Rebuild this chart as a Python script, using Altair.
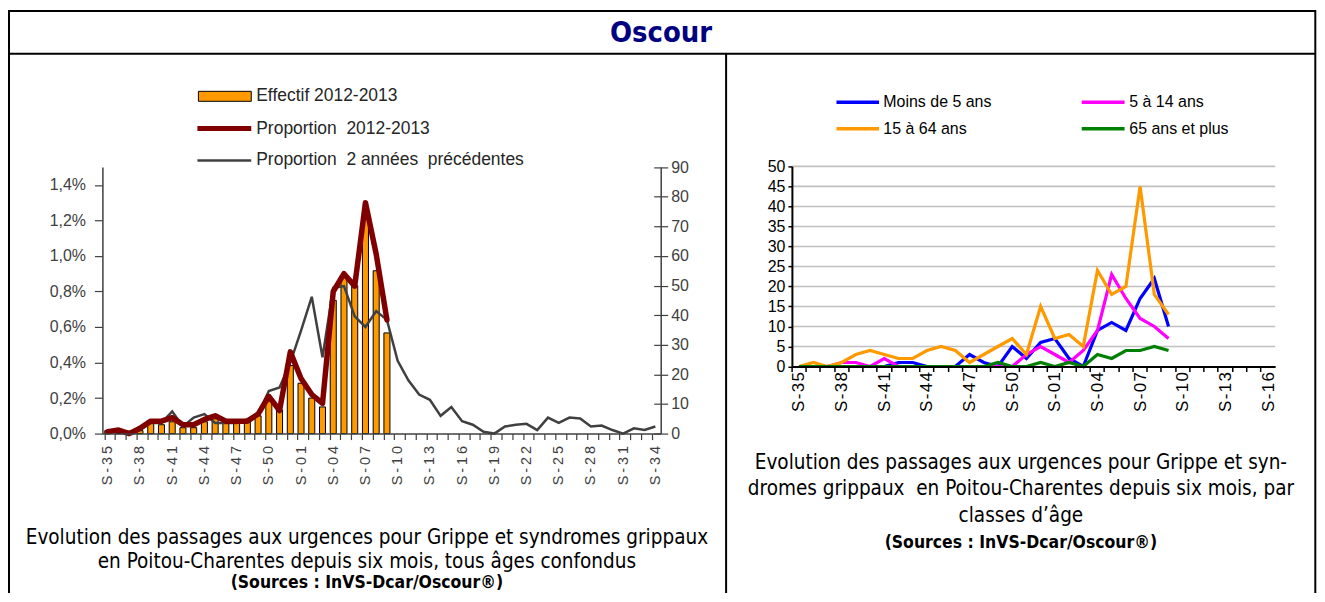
import altair as alt
import pandas as pd

# ---------------- data ----------------
weeks_left = ["S-35", "S-36", "S-37", "S-38", "S-39", "S-40", "S-41", "S-42", "S-43", "S-44",
              "S-45", "S-46", "S-47", "S-48", "S-49", "S-50", "S-51", "S-52", "S-01", "S-02",
              "S-03", "S-04", "S-05", "S-06", "S-07", "S-08", "S-09", "S-10", "S-11", "S-12",
              "S-13", "S-14", "S-15", "S-16", "S-17", "S-18", "S-19", "S-20", "S-21", "S-22",
              "S-23", "S-24", "S-25", "S-26", "S-27", "S-28", "S-29", "S-30", "S-31", "S-32",
              "S-33", "S-34"]
left_tick_labels = ["S-35", "S-38", "S-41", "S-44", "S-47", "S-50", "S-01", "S-04", "S-07", "S-10",
                    "S-13", "S-16", "S-19", "S-22", "S-25", "S-28", "S-31", "S-34"]

effectif_1213 = [1, 0, 0, 1, 4, 3, 4, 2, 2, 4, 5, 4, 4, 4, 6, 11, 8, 23, 17, 12, 9, 45, 53, 50, 73, 55, 34]
proportion_1213 = [0.01, 0.02, 0.0, 0.03, 0.07, 0.07, 0.09, 0.05, 0.05, 0.08, 0.10, 0.07, 0.07, 0.07,
                   0.11, 0.21, 0.13, 0.46, 0.31, 0.22, 0.17, 0.80, 0.90, 0.83, 1.30, 1.01, 0.64]
proportion_prev = [0.01, 0.01, 0.01, 0.02, 0.06, 0.06, 0.125, 0.04, 0.09, 0.11, 0.06, 0.06, 0.06, 0.08,
                   0.11, 0.24, 0.26, 0.40, 0.58, 0.77, 0.43, 0.82, 0.83, 0.66, 0.60, 0.69, 0.64, 0.41,
                   0.30, 0.22, 0.19, 0.10, 0.15, 0.07, 0.05, 0.01, 0.0, 0.04, 0.05, 0.055, 0.02, 0.09,
                   0.06, 0.09, 0.085, 0.04, 0.045, 0.02, 0.0, 0.03, 0.02, 0.04]
pct_ticks = [0.0, 0.2, 0.4, 0.6, 0.8, 1.0, 1.2, 1.4]
count_ticks = [0, 10, 20, 30, 40, 50, 60, 70, 80, 90]

weeks_right = ["S-35", "S-36", "S-37", "S-38", "S-39", "S-40", "S-41", "S-42", "S-43", "S-44",
               "S-45", "S-46", "S-47", "S-48", "S-49", "S-50", "S-51", "S-52", "S-01", "S-02",
               "S-03", "S-04", "S-05", "S-06", "S-07", "S-08", "S-09", "S-10", "S-11", "S-12",
               "S-13", "S-14", "S-15", "S-16"]
right_tick_labels = ["S-35", "S-38", "S-41", "S-44", "S-47", "S-50", "S-01", "S-04", "S-07", "S-10",
                     "S-13", "S-16"]
age_names = ["Moins de 5 ans", "5 à 14 ans", "15 à 64 ans", "65 ans et plus"]
age_colors = ["#0000FF", "#FF00FF", "#FF9900", "#008000"]
moins_5 = [0, 0, 0, 0, 0, 0, 0, 1, 1, 0, 0, 0, 3, 1, 0, 5, 2, 6, 7, 2, 0, 9, 11, 9, 17, 22, 10]
de_5_14 = [0, 0, 0, 1, 1, 0, 2, 0, 0, 0, 0, 0, 0, 0, 0, 0, 3, 5, 3, 1, 4, 9, 23, 17, 12, 10, 7]
de_15_64 = [0, 1, 0, 1, 3, 4, 3, 2, 2, 4, 5, 4, 1, 3, 5, 7, 3, 15, 7, 8, 5, 24, 18, 20, 45, 18, 13]
plus_65 = [0, 0, 0, 0, 0, 0, 0, 0, 0, 0, 0, 0, 0, 0, 1, 0, 0, 1, 0, 1, 0, 3, 2, 4, 4, 5, 4]
age_series = [moins_5, de_5_14, de_15_64, plus_65]
right_ticks = [0, 5, 10, 15, 20, 25, 30, 35, 40, 45, 50]
right_grid = [5, 10, 15, 20, 25, 30, 35, 40, 45, 50]

title_text = "Oscour"
left_legend = ["Effectif 2012-2013", "Proportion\u00a0 2012-2013", "Proportion\u00a0 2 années\u00a0 précédentes"]
left_caption = ["Evolution des passages aux urgences pour Grippe et syndromes grippaux",
                "en Poitou-Charentes depuis six mois, tous âges confondus"]
right_caption = ["Evolution des passages aux urgences pour Grippe et syn-",
                 "dromes grippaux\u00a0 en Poitou-Charentes depuis six mois, par",
                 "classes d\u2019âge"]
source_text = "(Sources : InVS-Dcar/Oscour®)"

# ---------------- layout (pixels inside the chart) ----------------
W, H = 1313, 586
LX0, LX1 = 94.7, 654.7
LY0, LY1 = 426.0, 158.7
RX0, RX1 = 786.3, 1271.0
RY0, RY1 = 358.7, 158.0

SANS = "Liberation Sans, Arial, sans-serif"
COND = "DejaVu Sans Condensed, Liberation Sans Narrow, sans-serif"
AXGRAY = "#404040"
THIN_LABELS = "join(split(datum.label, ''), '\u2009')"
HAIR_LABELS = "join(split(datum.label, ''), '\u200a')"

one = pd.DataFrame({"k": [0]})


def text_layer(s, x, y, size, color="black", align="left", font=SANS, weight="normal", baseline="middle"):
    return alt.Chart(one).mark_text(align=align, baseline=baseline, font=font, fontSize=size,
                                    fontWeight=weight, color=color).encode(
        x=alt.value(x), y=alt.value(y), text=alt.value(s))


def hrule(x1, x2, y, color="black", w=2.0):
    return alt.Chart(one).mark_rule(color=color, strokeWidth=w).encode(
        x=alt.value(x1), x2=alt.value(x2), y=alt.value(y))


def vrule(x, y1, y2, color="black", w=2.0):
    return alt.Chart(one).mark_rule(color=color, strokeWidth=w).encode(
        x=alt.value(x), y=alt.value(y1), y2=alt.value(y2))


def lx_band():
    return alt.Scale(type="band", domain=weeks_left, range=[LX0, LX1], paddingInner=0.44, paddingOuter=0.22)


def lx_point():
    return alt.Scale(type="point", domain=weeks_left, range=[LX0, LX1], padding=0.5)


def ly_pct():
    return alt.Scale(domain=[0, 1.5], range=[LY0, LY1], nice=False, zero=True)


def ly_n():
    return alt.Scale(domain=[0, 90], range=[LY0, LY1], nice=False, zero=True)


def rx_band():
    return alt.Scale(type="band", domain=weeks_right, range=[RX0, RX1], paddingInner=0, paddingOuter=0)


def rx_point():
    return alt.Scale(type="point", domain=weeks_right, range=[RX0, RX1], padding=0.5)


def ry():
    return alt.Scale(domain=[0, 50], range=[RY0, RY1], nice=False, zero=True)


df_eff = pd.DataFrame({"week": weeks_left[:len(effectif_1213)], "n": effectif_1213})
df_p13 = pd.DataFrame({"week": weeks_left[:len(proportion_1213)], "p": proportion_1213})
df_prev = pd.DataFrame({"week": weeks_left, "p": proportion_prev})
df_wr = pd.DataFrame({"week": weeks_right})
df_grid = pd.DataFrame({"v": right_grid})

layers = []

# right chart grid
layers.append(alt.Chart(df_grid).mark_rule(color="#C0C0C0", strokeWidth=1.6).encode(
    y=alt.Y("v:Q", scale=ry(), axis=None),
    x=alt.value(RX0), x2=alt.value(RX1)))

# bars (right axis = counts) with tick axis at bottom
layers.append(alt.Chart(df_eff).mark_bar(color="#FF9900", stroke="black", strokeWidth=1).encode(
    x=alt.X("week:N", scale=lx_band(), sort=weeks_left,
            axis=alt.Axis(orient="bottom", offset=LY0 - H, labels=False, ticks=True, tickSize=6,
                          bandPosition=0, domain=True, domainColor=AXGRAY, domainWidth=1.5,
                          tickColor=AXGRAY, tickWidth=1.2, grid=False, title=None, zindex=1)),
    y=alt.Y("n:Q", scale=ly_n(),
            axis=alt.Axis(orient="right", offset=LX1 - W, values=count_ticks, tickSize=7, tickColor=AXGRAY,
                          tickWidth=1.2, domainColor=AXGRAY, domainWidth=1.5, labelPadding=3,
                          labelFont=SANS, labelFontSize=16, labelColor=AXGRAY, grid=False, title=None,
                          zindex=1))))

# inward ticks of the right axis
layers.append(alt.Chart(df_eff).mark_point(opacity=0).encode(
    x=alt.X("week:N", scale=lx_band(), sort=weeks_left, axis=None),
    y=alt.Y("n:Q", scale=ly_n(),
            axis=alt.Axis(orient="left", offset=-LX1, values=count_ticks, tickSize=7, tickColor=AXGRAY,
                          tickWidth=1.2, domain=False, labels=False, grid=False, title=None, zindex=1))))

# grey line (previous years) with x labels
layers.append(alt.Chart(df_prev).mark_line(color="#404040", strokeWidth=2.5).encode(
    x=alt.X("week:N", scale=lx_point(), sort=weeks_left,
            axis=alt.Axis(orient="bottom", offset=LY0 - H, values=left_tick_labels, ticks=False,
                          domain=False, labelAngle=270, labelPadding=12, labelFont=SANS,
                          labelFontSize=14.5, labelColor=AXGRAY, labelExpr=THIN_LABELS,
                          grid=False, title=None, zindex=1)),
    y=alt.Y("p:Q", scale=ly_pct(), axis=None)))

# red line (2012-2013) with left % axis
layers.append(alt.Chart(df_p13).mark_line(color="#800000", strokeWidth=5.5, strokeJoin="round",
                                          strokeCap="round").encode(
    x=alt.X("week:N", scale=lx_point(), sort=weeks_left, axis=None),
    y=alt.Y("p:Q", scale=ly_pct(),
            axis=alt.Axis(orient="left", offset=-LX0, values=pct_ticks, tickSize=8, tickColor=AXGRAY,
                          tickWidth=1.2, domainColor=AXGRAY, domainWidth=1.5, labelPadding=9,
                          labelFont=SANS, labelFontSize=16, labelColor=AXGRAY,
                          labelExpr="replace(format(datum.value, '.1f'), '.', ',') + '%'",
                          grid=False, title=None, zindex=1))))

# right chart lines
for i, (name, col, vals) in enumerate(zip(age_names, age_colors, age_series)):
    df = pd.DataFrame({"week": weeks_right[:len(vals)], "v": vals})
    if i == 0:
        xax = alt.Axis(orient="bottom", offset=RY0 - H, values=right_tick_labels, ticks=False, domain=False,
                       labelAngle=270, labelPadding=5, labelFont=SANS, labelFontSize=17, labelColor="black",
                       labelExpr=HAIR_LABELS, grid=False, title=None, zindex=1)
        yax = alt.Axis(orient="left", offset=-RX0, values=right_ticks, tickSize=4, tickColor="black",
                       tickWidth=1.5, domainColor="black", domainWidth=2, labelPadding=3, labelFont=SANS,
                       labelFontSize=16, labelColor="black", grid=False, title=None, zindex=1)
    else:
        xax = None
        yax = None
    layers.append(alt.Chart(df).mark_line(color=col, strokeWidth=3.2).encode(
        x=alt.X("week:N", scale=rx_point(), sort=weeks_right, axis=xax),
        y=alt.Y("v:Q", scale=ry(), axis=yax)))

# right chart x ticks + domain
layers.append(alt.Chart(df_wr).mark_point(opacity=0).encode(
    x=alt.X("week:N", scale=rx_band(), sort=weeks_right,
            axis=alt.Axis(orient="bottom", offset=RY0 - H, labels=False, ticks=True, tickSize=5,
                          bandPosition=0, domain=True, domainColor="black", domainWidth=2,
                          tickColor="black", tickWidth=1.5, grid=False, title=None, zindex=1)),
    y=alt.value(RY0)))

# ---------------- frame & title ----------------
layers.append(hrule(0, 1312, 2))
layers.append(hrule(0, 1312, 45))
layers.append(vrule(1, 1, H))
layers.append(vrule(1311.3, 1, H))
layers.append(vrule(720.3, 45, H))
layers.append(text_layer(title_text, 655, 33.5, 29, color="#000080", align="center", font=COND,
                         weight="bold", baseline="alphabetic"))

# ---------------- left legend ----------------
layers.append(alt.Chart(one).mark_rect(fill="#FF9900", stroke="black", strokeWidth=1).encode(
    x=alt.value(191), x2=alt.value(244), y=alt.value(82.7), y2=alt.value(92.7)))
layers.append(hrule(190, 244, 120, color="#800000", w=5))
layers.append(hrule(190, 244, 152, color="#404040", w=2.5))
for lbl, yy in zip(left_legend, [87, 120.3, 152]):
    layers.append(text_layer(lbl, 249, yy, 17.5, color="#262626"))

# ---------------- right legend ----------------
leg_pos = [(831, 873.7, 878, 93.7), (1077, 1120, 1124.7, 93.7), (831, 873.7, 878, 120.3),
           (1077, 1120, 1124.7, 120.3)]
for name, col, (x1, x2, xt, yy) in zip(age_names, age_colors, leg_pos):
    layers.append(hrule(x1, x2, yy, color=col, w=3.5))
    layers.append(text_layer(name, xt, yy, 16))

# ---------------- captions ----------------
for s, yy in zip(left_caption, [537, 561]):
    layers.append(text_layer(s, 360, yy, 20.6, align="center", font=COND, baseline="alphabetic"))
layers.append(text_layer(source_text, 360, 581, 17.5, align="center", font=COND, weight="bold",
                         baseline="alphabetic"))
for s, yy in zip(right_caption, [461.5, 488, 514.5]):
    layers.append(text_layer(s, 1016, yy, 20.6, align="center", font=COND, baseline="alphabetic"))
layers.append(text_layer(source_text, 1016, 541, 17.5, align="center", font=COND, weight="bold",
                         baseline="alphabetic"))

chart = alt.layer(*layers).resolve_scale(
    x="independent", y="independent"
).resolve_axis(
    x="independent", y="independent"
).properties(
    width=W, height=H, autosize=alt.AutoSizeParams(type="none"), padding=0, background="white"
).configure_view(stroke=None)

chart.save("out.html", embed_options={"renderer": "svg", "actions": False})
